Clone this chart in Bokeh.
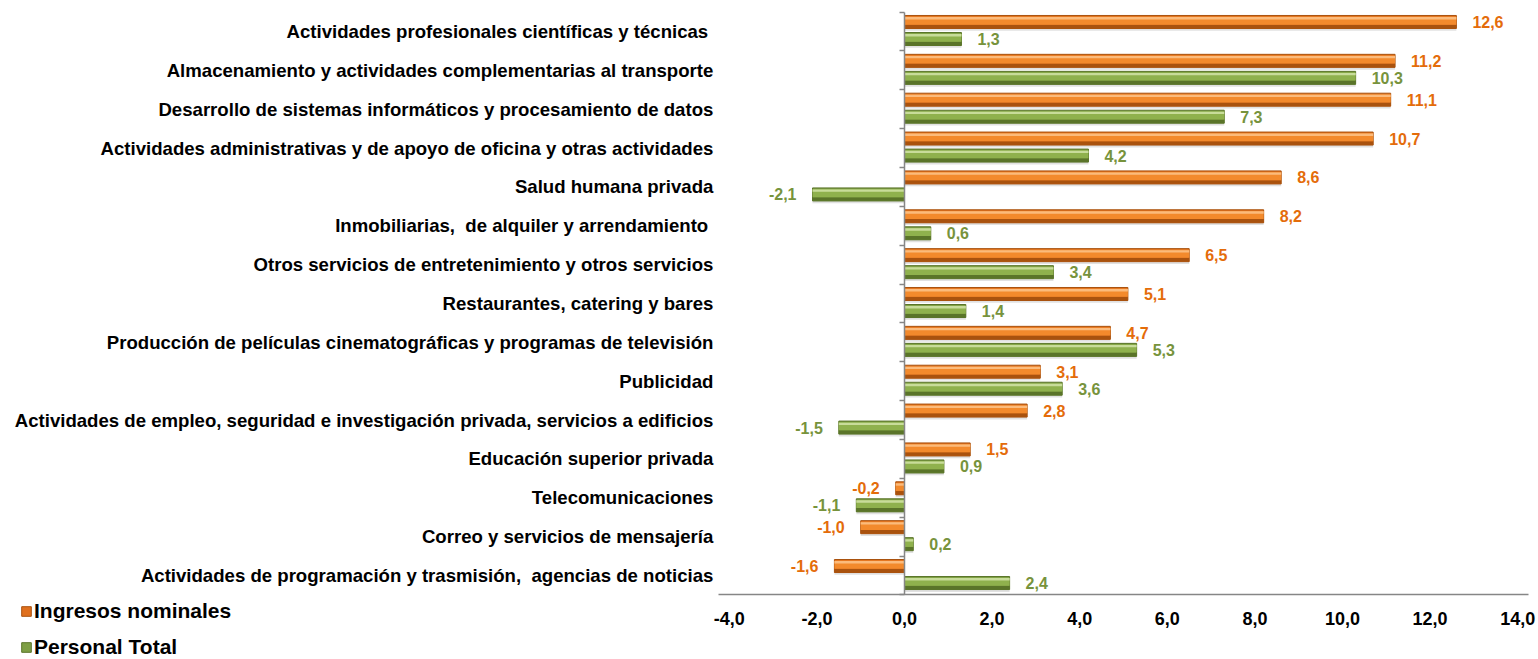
from bokeh.plotting import figure
from bokeh.models import (ColumnDataSource, Range1d, Legend, LegendItem, LinearAxis,
                          FixedTicker, CustomJSTickFormatter)
from bokeh.transform import dodge
from bokeh.core.properties import value
from bokeh.embed import file_html
from bokeh.resources import INLINE

categories = [
    "Actividades profesionales científicas y técnicas ",
    "Almacenamiento y actividades complementarias al transporte",
    "Desarrollo de sistemas informáticos y procesamiento de datos",
    "Actividades administrativas y de apoyo de oficina y otras actividades",
    "Salud humana privada",
    "Inmobiliarias,  de alquiler y arrendamiento ",
    "Otros servicios de entretenimiento y otros servicios",
    "Restaurantes, catering y bares",
    "Producción de películas cinematográficas y programas de televisión",
    "Publicidad",
    "Actividades de empleo, seguridad e investigación privada, servicios a edificios",
    "Educación superior privada",
    "Telecomunicaciones",
    "Correo y servicios de mensajería",
    "Actividades de programación y trasmisión,  agencias de noticias",
]
ingresos = [12.6, 11.2, 11.1, 10.7, 8.6, 8.2, 6.5, 5.1, 4.7, 3.1, 2.8, 1.5, -0.2, -1.0, -1.6]
personal = [1.3, 10.3, 7.3, 4.2, -2.1, 0.6, 3.4, 1.4, 5.3, 3.6, -1.5, 0.9, -1.1, 0.2, 2.4]
x_ticks = [-4, -2, 0, 2, 4, 6, 8, 10, 12, 14]
series_names = ["Ingresos nominales", "Personal Total"]

ORANGE = dict(dark="#A9520E", mid="#F38A2C", light="#FBBB7C", label="#E46C0A", legend="#E0701E")
GREEN = dict(dark="#5A7429", mid="#8FB14D", light="#C8DC9A", label="#77933C", legend="#7E9F45")

W, H_FIG = 1536, 659
PX_PER_X = 43.8      # pixels per x unit
X0_PX = 904          # pixel position of x = 0
BAND_PX = 38.86      # pixels per category band
CAT0_PX = 31         # pixel position of first category centre

n = len(categories)
ypos = [n - 1 - i for i in range(n)]


def fmt(v):
    return ("%.1f" % v).replace(".", ",")


src = ColumnDataSource(dict(
    y=ypos,
    ing=ingresos,
    per=personal,
    ing_lbl=[fmt(v) for v in ingresos],
    per_lbl=[fmt(v) for v in personal],
    ing_align=["left" if v >= 0 else "right" for v in ingresos],
    per_align=["left" if v >= 0 else "right" for v in personal],
    ing_off=[16 if v >= 0 else -16 for v in ingresos],
    per_off=[16 if v >= 0 else -16 for v in personal],
))

x_start = -X0_PX / PX_PER_X
x_end = (W - X0_PX) / PX_PER_X
y_end = (n - 1) + CAT0_PX / BAND_PX
y_start = (n - 1) - (H_FIG - CAT0_PX) / BAND_PX

p = figure(width=W, height=H_FIG, x_range=Range1d(x_start, x_end), y_range=Range1d(y_start, y_end),
           output_backend="svg", toolbar_location=None,
           x_axis_location=None, y_axis_location=None,
           min_border_left=0, min_border_right=0, min_border_top=0, min_border_bottom=0)
p.outline_line_color = None
p.grid.grid_line_color = None
p.background_fill_color = "white"

HB = 0.335
OFF_ING = 0.245
OFF_PER = -0.193
xmin_axis = x_ticks[0] - 0.25
xmax_axis = x_ticks[-1] + 0.25


def draw_bar(col, off, c):
    # soft shadow
    p.hbar(y=dodge("y", off - 0.06), left=0, right=col, height=HB,
           source=src, fill_color="#9a9a9a", fill_alpha=0.3, line_color=None)
    # base bar (also used as legend glyph)
    base = p.hbar(y=dodge("y", off), left=0, right=col, height=HB,
                  source=src, fill_color=c["legend"], line_color=c["dark"], line_width=1)
    # dark lower bevel
    p.hbar(y=dodge("y", off - HB * 0.35), left=0, right=col, height=HB * 0.28,
           source=src, fill_color=c["dark"], line_color=None)
    # main face
    p.hbar(y=dodge("y", off + HB * 0.1), left=0, right=col, height=HB * 0.62,
           source=src, fill_color=c["mid"], line_color=None)
    # highlight
    p.hbar(y=dodge("y", off + HB * 0.29), left=0, right=col, height=HB * 0.18,
           source=src, fill_color=c["light"], line_color=None)
    return base


l_ing = draw_bar("ing", OFF_ING, ORANGE)
l_per = draw_bar("per", OFF_PER, GREEN)

for col, lbl, al, off, yoff, c in [("ing", "ing_lbl", "ing_align", "ing_off", OFF_ING, ORANGE),
                                   ("per", "per_lbl", "per_align", "per_off", OFF_PER, GREEN)]:
    p.text(x=col, y=dodge("y", yoff), text=lbl, source=src,
           text_align=al, x_offset=off, y_offset=0, text_baseline="middle",
           text_font=value("Liberation Sans"), text_font_style="bold",
           text_font_size="16px", text_color=c["label"])

# category label axis (inside frame, fixed at left end of value axis)
cat_axis = LinearAxis(fixed_location=xmin_axis, ticker=FixedTicker(ticks=ypos),
                      major_label_overrides={yy: name.replace("  ", " \u00a0")
                                             for yy, name in zip(ypos, categories)})
cat_axis.axis_line_color = None
cat_axis.major_tick_line_color = None
cat_axis.minor_tick_line_color = None
cat_axis.major_tick_out = 0
cat_axis.major_tick_in = 0
cat_axis.major_label_standoff = 5
cat_axis.major_label_text_font = "Liberation Sans"
cat_axis.major_label_text_font_style = "bold"
cat_axis.major_label_text_font_size = "18.6px"
cat_axis.major_label_text_color = "#000000"
p.add_layout(cat_axis, "left")

# vertical axis line at zero with ticks between categories
bounds = [yy - 0.5 for yy in ypos] + [ypos[0] + 0.5]
zero_axis = LinearAxis(fixed_location=0, ticker=FixedTicker(ticks=bounds),
                       bounds=(min(bounds), max(bounds)),
                       formatter=CustomJSTickFormatter(code="return '';"))
zero_axis.axis_line_color = "#868686"
zero_axis.axis_line_width = 1.5
zero_axis.major_tick_line_color = "#868686"
zero_axis.major_tick_line_width = 1.5
zero_axis.major_tick_out = 5
zero_axis.major_tick_in = 0
zero_axis.minor_tick_line_color = None
zero_axis.major_label_text_font_size = "0px"
p.add_layout(zero_axis, "left")

# value axis
xa = LinearAxis(fixed_location=min(bounds), ticker=FixedTicker(ticks=x_ticks),
                bounds=(xmin_axis, xmax_axis),
                formatter=CustomJSTickFormatter(code="return tick.toFixed(1).replace('.', ',');"))
xa.axis_line_color = "#868686"
xa.axis_line_width = 1.5
xa.major_tick_line_color = None
xa.minor_tick_line_color = None
xa.major_tick_out = 0
xa.major_tick_in = 0
xa.major_label_standoff = 17
xa.major_label_text_font = "Liberation Sans"
xa.major_label_text_font_style = "bold"
xa.major_label_text_font_size = "18px"
xa.major_label_text_color = "#000000"
p.add_layout(xa, "below")

legend = Legend(items=[LegendItem(label=series_names[0], renderers=[l_ing]),
                       LegendItem(label=series_names[1], renderers=[l_per])],
                location=(20, 0), orientation="vertical",
                label_text_font="Liberation Sans", label_text_font_style="bold",
                label_text_font_size="21px", label_text_color="#000000",
                glyph_width=12, glyph_height=12, label_standoff=2, spacing=12,
                padding=0, margin=0, border_line_color=None, background_fill_alpha=0)
p.add_layout(legend)

open("out.html", "w").write(file_html(p, INLINE))
